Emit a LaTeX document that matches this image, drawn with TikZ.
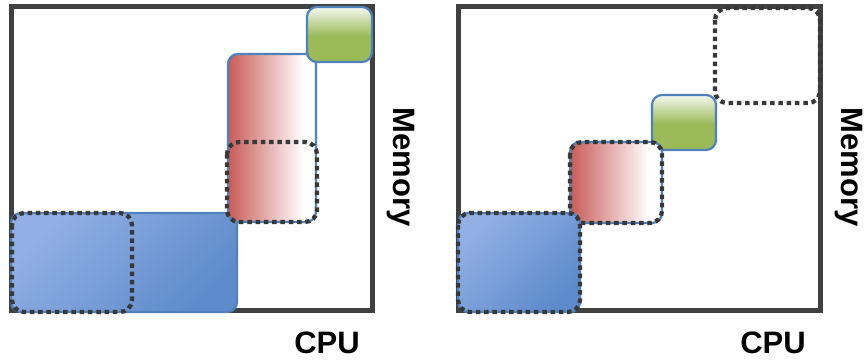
\documentclass[tikz,border=0pt]{standalone}
\usepackage{fontspec}
\setmainfont{Liberation Sans}
\definecolor{framegray}{HTML}{404040}
\definecolor{dotgray}{HTML}{383838}
\definecolor{edgeblue}{HTML}{4F81BD}
\definecolor{gbase}{HTML}{9BBB59}
\definecolor{gtop}{HTML}{F4F8EE}
\definecolor{rleft}{HTML}{C85B58}
\definecolor{btl}{HTML}{92B0E5}
\definecolor{bbr}{HTML}{5E8BCB}
\pgfdeclareverticalshading{greenfade}{100bp}{color(0bp)=(gbase); color(25bp)=(gbase); color(49bp)=(gbase); color(75bp)=(gtop); color(100bp)=(gtop)}
\pgfdeclarehorizontalshading{redfade}{100bp}{color(0bp)=(rleft); color(25bp)=(rleft); color(68bp)=(white); color(100bp)=(white)}
\tikzset{
  panel/.style={draw=framegray, line width=5pt, fill=white},
  solidbox/.style={draw=edgeblue, line width=2.2pt, rounded corners=10pt},
  greenbox/.style={solidbox, shading=greenfade},
  redbox/.style={solidbox, shading=redfade},
  bluebox/.style={solidbox, top color=btl, bottom color=bbr, shading angle=45},
  dotbox/.style={draw=dotgray, line width=4.3pt, dash pattern=on 4.5pt off 3.8pt, rounded corners=12pt},
  axislabel/.style={font=\fontsize{31}{36}\bfseries\selectfont, text=black, inner sep=0pt}
}
\begin{document}
\begin{tikzpicture}[x=1pt, y=-1pt]
\useasboundingbox (0,0) rectangle (865,360);

% ---- left panel ----
\draw[panel] (11,6) rectangle (372,310);
\path[bluebox] (11,213) rectangle (237,312);
\path[redbox] (228,54) rectangle (316,222);
\path[greenbox] (307,7) rectangle (372,62);
\draw[dotbox] (227,142) rectangle (317,222);
\draw[dotbox] (12,213) rectangle (132,312);
\node[axislabel, rotate=-90] (memL) at (401,167) {Memory};
\node[axislabel] (cpuL) at (327,343) {CPU};

% ---- right panel ----
\draw[panel] (458,6) rectangle (820,310);
\draw[dotbox] (715,8) rectangle (820,103);
\path[greenbox] (652,95) rectangle (716,150);
\path[redbox] (570,142) rectangle (662,223);
\draw[dotbox] (570,142) rectangle (662,223);
\path[bluebox] (458,213) rectangle (580,312);
\draw[dotbox] (458,213) rectangle (580,312);
\node[axislabel, rotate=-90] (memR) at (849,167) {Memory};
\node[axislabel] (cpuR) at (773,343) {CPU};
\end{tikzpicture}
\end{document}
